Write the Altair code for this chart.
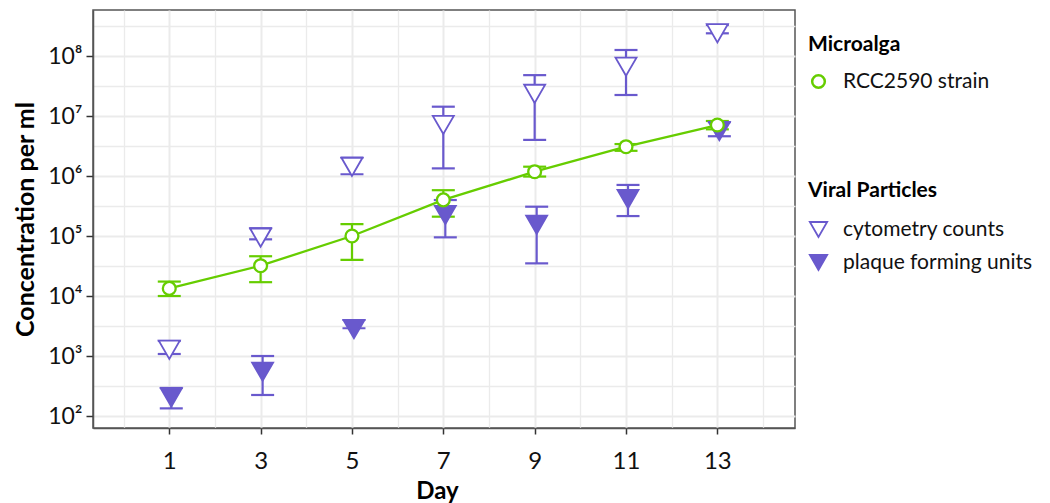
import altair as alt
import pandas as pd

GREEN = "#66CD00"
PURPLE = "#6959CD"

days = [1, 3, 5, 7, 9, 11, 13]

alga_mean = [1.34e4, 3.2e4, 1.0e5, 4.0e5, 1.18e6, 3.08e6, 7.08e6]
alga_lo = [1.0e4, 1.7e4, 4.0e4, 2.1e5, 9.8e5, 2.63e6, 6.0e6]
alga_hi = [1.74e4, 4.6e4, 1.58e5, 5.8e5, 1.43e6, 3.41e6, 8.26e6]

cyto_mean = [1.27e3, 9.4e4, 1.42e6, 7.1e6, 2.34e7, 6.64e7, 2.39e8]
cyto_lo = [1.08e3, 8.8e4, 1.07e6, 1.34e6, 4.0e6, 2.24e7, 2.39e8]
cyto_hi = [1.78e3, 1.35e5, 2.02e6, 1.43e7, 4.8e7, 1.26e8, 3.29e8]

pfu_mean = [203, 547, 2.8e3, 2.24e5, 1.54e5, 4.14e5, 5.6e6]
pfu_lo = [134, 224, 2.9e3, 9.5e4, 3.5e4, 2.15e5, 4.6e6]
pfu_hi = [293, 1000, 3.98e3, 3.98e5, 3.08e5, 7.1e5, 7.9e6]

alga_label = "RCC2590 strain"
viral_labels = ["cytometry counts", "plaque forming units"]

x_values = list(range(0, 15))
y_values = [10 ** (k / 2) for k in range(4, 18)]

alga = pd.DataFrame({"day": days, "mean": alga_mean, "lo": alga_lo, "hi": alga_hi,
                     "series": [alga_label] * len(days)})
cyto = pd.DataFrame({"day": days, "mean": cyto_mean, "lo": cyto_lo, "hi": cyto_hi,
                     "type": [viral_labels[0]] * len(days)})
pfu = pd.DataFrame({"day": days, "mean": pfu_mean, "lo": pfu_lo, "hi": pfu_hi,
                    "type": [viral_labels[1]] * len(days)})

is_dec = "abs(log(datum.value)/LN10 - round(log(datum.value)/LN10)) < 0.01"
sup = "['\u2070','\u00b9','\u00b2','\u00b3','\u2074','\u2075','\u2076','\u2077','\u2078','\u2079']"

x_axis = alt.Axis(
    values=x_values,
    labelExpr="datum.value % 2 == 1 ? datum.label : ''",
    tickOpacity={"condition": {"test": "datum.value % 2 == 1", "value": 1}, "value": 0},
    gridWidth={"condition": {"test": "datum.value % 2 == 1", "value": 2}, "value": 1.3},
    gridColor="#EBEBEB",
    tickSize=6, tickColor="#333333", tickWidth=1.5,
    domainColor="#555555", domainWidth=1.5,
    labelFontSize=24, labelPadding=15, labelColor="#111111",
    title="Day", titleFontSize=24, titleFontWeight="bold", titlePadding=6,
    titleX=344, titleColor="#000000",
)
y_axis = alt.Axis(
    values=y_values,
    labelExpr=f"{is_dec} ? '10' + {sup}[round(log(datum.value)/LN10)] : ''",
    tickOpacity={"condition": {"test": is_dec, "value": 1}, "value": 0},
    gridWidth={"condition": {"test": is_dec, "value": 2}, "value": 1.3},
    gridColor="#EBEBEB",
    tickSize=7, tickColor="#333333", tickWidth=1.5,
    domainColor="#555555", domainWidth=1.5,
    labelFontSize=23, labelPadding=4, labelColor="#111111",
    title="Concentration per ml", titleFontSize=25, titleFontWeight="bold",
    titleX=-60, titleBaseline="alphabetic", titleAngle=270,
    titleColor="#000000",
)

x_scale = alt.Scale(domain=[-0.67, 14.7], nice=False, zero=False)
y_scale = alt.Scale(type="log", domain=[10 ** 1.8, 10 ** 8.767], nice=False)


def X():
    return alt.X("day:Q", scale=x_scale, axis=x_axis)


def Y(field):
    return alt.Y(f"{field}:Q", scale=y_scale, axis=y_axis)


def errbars(df, color, xoff):
    base = alt.Chart(df)
    rule = base.mark_rule(color=color, strokeWidth=2.2, xOffset=xoff).encode(
        x=X(), y=Y("lo"), y2="hi:Q")
    caps = base.transform_fold(["lo", "hi"], as_=["end", "val"]).mark_tick(
        orient="horizontal", size=23, thickness=2.2, color=color, opacity=1,
        xOffset=xoff).encode(x=X(), y=Y("val"))
    return rule + caps


green_err = errbars(alga, GREEN, 0)
green_line = alt.Chart(alga).mark_line(color=GREEN, strokeWidth=2.3).encode(
    x=X(), y=Y("mean"))
cyto_err = errbars(cyto, PURPLE, 0)
pfu_err = errbars(pfu, PURPLE, 2)

shape_scale = alt.Scale(domain=viral_labels, range=["triangle-down", "triangle-down"])
fill_scale = alt.Scale(domain=viral_labels, range=["white", PURPLE])
stroke_scale = alt.Scale(domain=viral_labels, range=[PURPLE, PURPLE])
viral_legend = alt.Legend(
    title="Viral Particles", orient="none", legendX=715, legendY=170,
    titleFontSize=21, titleFontWeight="bold", titleColor="#000000", titlePadding=18,
    labelFontSize=21, labelColor="#111111", labelOffset=14, labelLimit=300,
    symbolSize=300, symbolStrokeWidth=1.8,
    rowPadding=10, padding=0,
)


def tri(df, xoff):
    return alt.Chart(df).mark_point(
        size=441, strokeWidth=1.8, opacity=1, filled=False, xOffset=xoff
    ).encode(
        x=X(), y=Y("mean"),
        shape=alt.Shape("type:N", scale=shape_scale, legend=viral_legend),
        fill=alt.Fill("type:N", scale=fill_scale, legend=viral_legend),
        stroke=alt.Stroke("type:N", scale=stroke_scale, legend=viral_legend),
    )


circles = alt.Chart(alga).mark_point(
    shape="circle", size=165, strokeWidth=2.3, opacity=1, fill="white", filled=False
).encode(
    x=X(), y=Y("mean"),
    color=alt.Color("series:N", scale=alt.Scale(domain=[alga_label], range=[GREEN]),
                    legend=alt.Legend(
                        title="Microalga", orient="none", legendX=715, legendY=24,
                        titleFontSize=21, titleFontWeight="bold", titleColor="#000000",
                        titlePadding=16, labelFontSize=21, labelColor="#111111",
                        labelOffset=14, labelLimit=300, symbolType="circle",
                        symbolSize=160, symbolStrokeWidth=2.5,
                        symbolFillColor="white", padding=0)),
)

chart = alt.layer(
    green_err, green_line, cyto_err, pfu_err, tri(cyto, 0), tri(pfu, 2), circles
).properties(
    width=702, height=418,
    padding={"left": 85, "top": 2, "right": 247, "bottom": 75},
    autosize=alt.AutoSizeParams(type="none"),
).configure(
    font="Lato",
    background="white",
).configure_view(
    stroke="#555555", strokeWidth=1.5,
)

chart.save("out.html", embed_options={"renderer": "svg", "actions": False})
